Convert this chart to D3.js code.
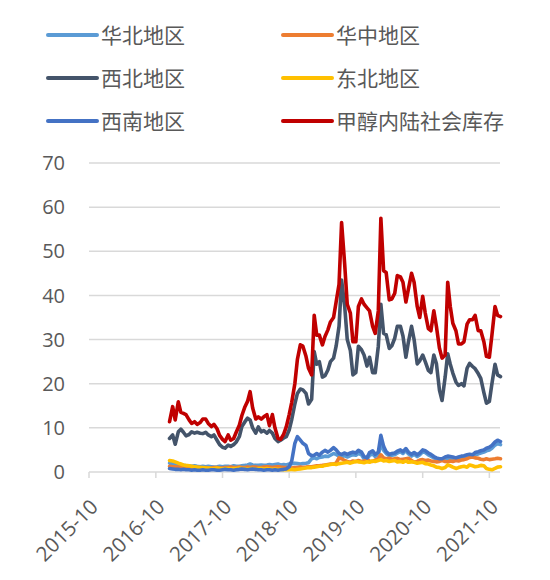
<!DOCTYPE html>
<html>
<head>
<meta charset="utf-8">
<script src="https://cdn.jsdelivr.net/npm/d3@7"></script>
<style>
  html, body { margin: 0; padding: 0; background: #fff; }
  svg { display: block; }
</style>
</head>
<body>
<svg id="chart" width="550" height="580"></svg>
<script>
// ---------- data ----------
const dates = [
  "2016-12-15",
  "2017-01-01","2017-01-15","2017-02-01","2017-02-15","2017-03-01","2017-03-15","2017-04-01","2017-04-15",
  "2017-05-01","2017-05-15","2017-06-01","2017-06-15","2017-07-01","2017-07-15","2017-08-01","2017-08-15",
  "2017-09-01","2017-09-15","2017-10-01","2017-10-15","2017-11-01","2017-11-15","2017-12-01","2017-12-15",
  "2018-01-01","2018-01-15","2018-02-01","2018-02-15","2018-03-01","2018-03-15","2018-04-01","2018-04-15",
  "2018-05-01","2018-05-15","2018-06-01","2018-06-15","2018-07-01","2018-07-15","2018-08-01","2018-08-15",
  "2018-09-01","2018-09-15","2018-10-01","2018-10-15","2018-11-01","2018-11-15","2018-12-01","2018-12-15",
  "2019-01-01","2019-01-15","2019-02-01","2019-02-15","2019-03-01","2019-03-15","2019-04-01","2019-04-15",
  "2019-05-01","2019-05-15","2019-06-01","2019-06-15","2019-07-01","2019-07-15","2019-08-01","2019-08-15",
  "2019-09-01","2019-09-15","2019-10-01","2019-10-15","2019-11-01","2019-11-15","2019-12-01","2019-12-15",
  "2020-01-01","2020-01-15","2020-02-01","2020-02-15","2020-03-01","2020-03-15","2020-04-01","2020-04-15",
  "2020-05-01","2020-05-15","2020-06-01","2020-06-15","2020-07-01","2020-07-15","2020-08-01","2020-08-15",
  "2020-09-01","2020-09-15","2020-10-01","2020-10-15","2020-11-01","2020-11-15","2020-12-01","2020-12-15",
  "2021-01-01","2021-01-15","2021-02-01","2021-02-15","2021-03-01","2021-03-15","2021-04-01","2021-04-15",
  "2021-05-01","2021-05-15","2021-06-01","2021-06-15","2021-07-01","2021-07-15","2021-08-01","2021-08-15",
  "2021-09-01","2021-09-15","2021-10-01","2021-10-15","2021-11-01","2021-11-15","2021-12-01"
];

const huabei = [
  2.0,1.9,1.8,1.6,1.5,1.5,1.4,1.4,1.3,1.4,1.3,1.2,1.3,1.2,1.3,1.2,1.1,1.2,1.3,1.2,1.3,
  1.3,1.2,1.4,1.3,1.3,1.4,1.5,1.6,1.8,1.6,1.5,1.5,1.6,1.5,1.6,1.7,1.6,1.7,1.8,1.6,1.7,1.6,
  1.8,1.9,2.0,1.9,1.8,1.9,2.0,2.1,3.0,3.2,3.0,3.3,3.4,3.6,3.5,3.8,4.2,4.0,3.6,3.5,3.7,3.4,
  3.7,3.9,3.8,4.2,3.9,3.0,2.9,3.8,4.1,3.5,3.9,6.5,4.9,4.2,3.7,3.8,3.9,4.3,4.6,4.2,4.9,4.1,
  3.6,4.0,3.5,3.9,4.6,4.4,3.9,3.6,3.2,2.9,2.7,2.7,3.0,3.2,3.1,3.0,2.9,3.0,3.2,3.3,3.5,3.6,
  3.5,3.9,4.1,4.3,4.5,4.8,5.0,5.4,6.1,6.4,6.2
];
const huazhong = [
  1.3,1.2,1.2,1.1,1.1,1.0,1.1,1.0,1.0,0.9,1.0,1.0,0.9,1.0,0.9,0.9,1.0,1.0,0.9,0.9,1.0,
  1.0,1.1,1.0,1.0,1.1,1.0,1.0,1.1,1.0,1.1,1.1,1.0,1.0,1.1,1.2,1.1,1.0,1.1,1.2,1.1,1.0,1.0,
  1.0,0.9,1.0,1.0,1.1,1.0,1.1,1.2,1.2,1.3,1.4,1.4,1.5,1.6,1.7,1.8,1.8,2.0,3.2,3.0,2.6,2.4,
  2.2,2.5,2.4,2.6,2.4,2.5,2.7,2.5,2.4,2.7,3.0,3.9,3.2,3.0,3.1,2.9,3.0,3.1,2.8,2.9,3.0,3.1,
  2.6,2.2,2.4,2.7,2.8,2.6,2.7,2.5,2.4,2.3,2.4,2.6,2.4,2.3,2.5,2.4,2.6,2.5,2.7,2.8,3.0,3.3,
  3.4,3.2,3.1,2.9,2.8,3.0,2.8,2.9,3.0,3.1,3.0
];
const xibei = [
  7.6,8.4,6.3,9.1,9.7,9.0,8.2,8.5,9.1,8.8,9.0,8.8,8.7,9.0,8.4,8.0,8.4,7.2,6.2,5.6,5.4,
  6.1,5.8,6.2,6.8,8.0,10.3,11.4,12.2,11.8,10.0,8.8,10.2,9.1,9.4,8.8,9.4,8.8,7.6,6.9,7.2,7.7,8.0,
  9.5,11.9,15.4,17.8,18.8,18.6,17.8,15.4,16.5,27.3,24.4,25.0,21.5,21.8,23.1,25.0,25.8,28.5,33.0,43.5,37.5,30.0,
  27.5,22.0,22.5,28.5,27.7,26.5,24.0,26.0,22.5,22.5,28.5,38.0,31.4,31.1,28.0,28.6,30.3,33.0,33.0,30.8,26.0,29.5,
  33.0,30.0,24.5,25.2,26.5,25.0,23.0,22.5,26.5,24.6,18.5,16.2,21.5,26.8,24.4,22.4,20.4,19.6,20.0,19.5,23.5,24.6,
  23.9,23.4,22.3,21.2,18.0,15.6,16.0,20.0,24.4,22.0,21.6
];
const dongbei = [
  2.6,2.5,2.3,2.0,1.8,1.6,1.5,1.4,1.3,1.2,1.1,1.0,1.0,0.9,0.9,0.8,0.8,0.9,0.8,0.7,0.8,
  0.8,0.7,0.8,0.8,0.9,0.8,0.8,0.7,0.8,0.8,0.7,0.8,0.8,0.7,0.8,0.7,0.6,0.7,0.6,0.6,0.5,0.5,
  0.5,0.6,0.5,0.6,0.7,0.8,0.9,1.0,1.0,1.1,1.2,1.3,1.3,1.5,1.6,1.7,1.8,1.7,1.9,2.0,2.1,2.2,
  2.0,2.2,2.4,2.3,2.2,2.1,2.3,2.2,2.5,2.4,2.6,2.8,2.5,2.6,2.4,2.5,2.6,2.3,2.4,2.2,2.5,2.2,
  2.3,2.2,2.0,2.1,2.2,1.9,1.8,1.6,1.4,1.1,1.0,0.8,1.0,1.6,1.4,1.1,0.8,1.0,1.2,1.3,1.1,1.6,
  1.4,1.2,1.3,1.5,1.4,0.8,0.6,0.5,0.8,1.1,1.2
];
const xinan = [
  0.8,0.7,0.6,0.6,0.5,0.6,0.5,0.5,0.4,0.5,0.4,0.4,0.5,0.4,0.4,0.5,0.5,0.4,0.4,0.5,0.6,
  0.5,0.5,0.4,0.5,0.6,0.7,0.6,0.5,0.6,0.7,0.6,0.5,0.5,0.4,0.5,0.5,0.4,0.5,0.4,0.5,0.6,0.7,
  1.2,2.5,6.5,8.0,7.2,6.5,6.0,4.2,3.7,3.8,4.2,3.8,4.5,4.9,4.5,4.9,5.5,5.0,4.2,4.0,4.3,4.0,
  4.3,4.5,4.3,4.9,4.5,3.5,3.2,4.4,4.8,4.0,4.5,8.3,5.8,4.6,4.0,4.2,4.3,4.7,5.0,4.6,5.3,4.5,
  4.0,4.4,3.9,4.3,5.0,4.8,4.3,4.0,3.5,3.2,3.0,3.0,3.4,3.6,3.5,3.4,3.2,3.4,3.6,3.7,3.9,4.0,
  3.9,4.4,4.6,4.8,5.0,5.4,5.6,6.0,6.8,7.2,6.9
];
const neilu = [
  11.4,14.8,11.8,15.9,13.5,13.3,13.0,11.8,11.0,11.4,10.8,11.2,12.0,12.0,11.0,10.3,10.8,9.8,8.3,7.4,6.9,
  8.4,7.2,7.6,9.0,10.6,12.8,14.8,16.0,18.2,14.5,12.0,12.5,12.0,12.5,13.0,10.5,13.0,10.0,7.6,7.4,8.6,10.2,
  13.0,15.8,20.0,25.5,28.8,28.5,26.2,23.5,22.0,35.5,31.0,31.0,28.8,30.7,32.2,34.0,35.0,38.5,42.5,56.5,47.0,38.0,
  36.0,29.5,29.5,37.5,39.2,38.0,37.2,36.5,33.0,31.4,36.5,57.5,45.6,45.2,39.0,39.2,40.5,44.5,44.2,43.0,38.5,41.5,
  45.0,43.0,37.5,35.0,39.8,36.0,32.5,32.0,36.5,33.0,28.0,25.8,26.5,43.0,37.5,33.7,32.0,29.0,29.0,29.5,33.5,34.5,
  34.5,35.5,32.0,32.0,29.5,26.2,26.0,31.0,37.5,35.5,35.2
];

const seriesNames = ["华北地区","华中地区","西北地区","东北地区","西南地区","甲醇内陆社会库存"];
const seriesValues = [huabei, huazhong, xibei, dongbei, xinan, neilu];
const seriesColors = ["#5B9BD5","#ED7D31","#44546A","#FFC000","#4472C4","#C00000"];

const yTicks = [0,10,20,30,40,50,60,70];
const xTickDates = ["2015-10-01","2016-10-01","2017-10-01","2018-10-01","2019-10-01","2020-10-01","2021-10-01"];
const xTickLabels = ["2015-10","2016-10","2017-10","2018-10","2019-10","2020-10","2021-10"];

// ---------- drawing ----------
const parse = d3.timeParse("%Y-%m-%d");
const svg = d3.select("#chart");

const x = d3.scaleTime()
  .domain([parse("2015-10-01"), parse("2021-12-01")])
  .range([89, 500.5]);
const y = d3.scaleLinear().domain([0, 70]).range([472, 163]);

const textColor = "#595959";
const gridColor = "#D9D9D9";
const numFont = "'Open Sans', 'Noto Sans CJK SC', sans-serif";
const cjkFont = "'Noto Sans CJK SC', sans-serif";

// gridlines
svg.append("g").selectAll("line")
  .data(yTicks.filter(d => d > 0))
  .join("line")
  .attr("x1", 89).attr("x2", 500)
  .attr("y1", d => y(d)).attr("y2", d => y(d))
  .attr("stroke", gridColor).attr("stroke-width", 1.5);

// y labels
svg.append("g").selectAll("text")
  .data(yTicks)
  .join("text")
  .attr("x", 65)
  .attr("y", d => y(d))
  .attr("dy", "0.36em")
  .attr("text-anchor", "end")
  .attr("font-family", numFont)
  .attr("font-size", 20)
  .attr("fill", textColor)
  .text(d => d);

// x axis
const xAxisG = svg.append("g");
xAxisG.append("line")
  .attr("x1", 89).attr("x2", 500)
  .attr("y1", y(0)).attr("y2", y(0))
  .attr("stroke", gridColor).attr("stroke-width", 1.5);
const xTicks = xTickDates.map((d, i) => ({ date: parse(d), label: xTickLabels[i] }));
xAxisG.selectAll("line.tick")
  .data(xTicks)
  .join("line")
  .attr("class", "tick")
  .attr("x1", d => x(d.date)).attr("x2", d => x(d.date))
  .attr("y1", y(0)).attr("y2", y(0) + 6)
  .attr("stroke", gridColor).attr("stroke-width", 1.5);
xAxisG.selectAll("text")
  .data(xTicks)
  .join("text")
  .attr("transform", d => `translate(${x(d.date) + 5},${y(0) + 31}) rotate(-45)`)
  .attr("dy", "0.36em")
  .attr("text-anchor", "end")
  .attr("font-family", numFont)
  .attr("font-size", 20.5)
  .attr("fill", textColor)
  .text(d => d.label);

// lines
const parsedDates = dates.map(parse);
const lineGen = d3.line()
  .x((d, i) => x(parsedDates[i]))
  .y(d => y(d));
svg.append("g").selectAll("path")
  .data(seriesValues)
  .join("path")
  .attr("d", d => lineGen(d))
  .attr("fill", "none")
  .attr("stroke", (d, i) => seriesColors[i])
  .attr("stroke-width", 3.6)
  .attr("stroke-linejoin", "round")
  .attr("stroke-linecap", "round");

// legend
const legendCols = [48, 283];
const legendRows = [35, 78, 121];
const legend = svg.append("g");
seriesNames.forEach((name, i) => {
  const cx = legendCols[i % 2];
  const cy = legendRows[Math.floor(i / 2)];
  legend.append("line")
    .attr("x1", cx).attr("x2", cx + 49)
    .attr("y1", cy).attr("y2", cy)
    .attr("stroke", seriesColors[i])
    .attr("stroke-width", 4)
    .attr("stroke-linecap", "round");
  legend.append("text")
    .attr("x", cx + 53)
    .attr("y", cy)
    .attr("dy", "0.36em")
    .attr("font-family", cjkFont)
    .attr("font-size", 21)
    .attr("fill", textColor)
    .text(name);
});
</script>
</body>
</html>
